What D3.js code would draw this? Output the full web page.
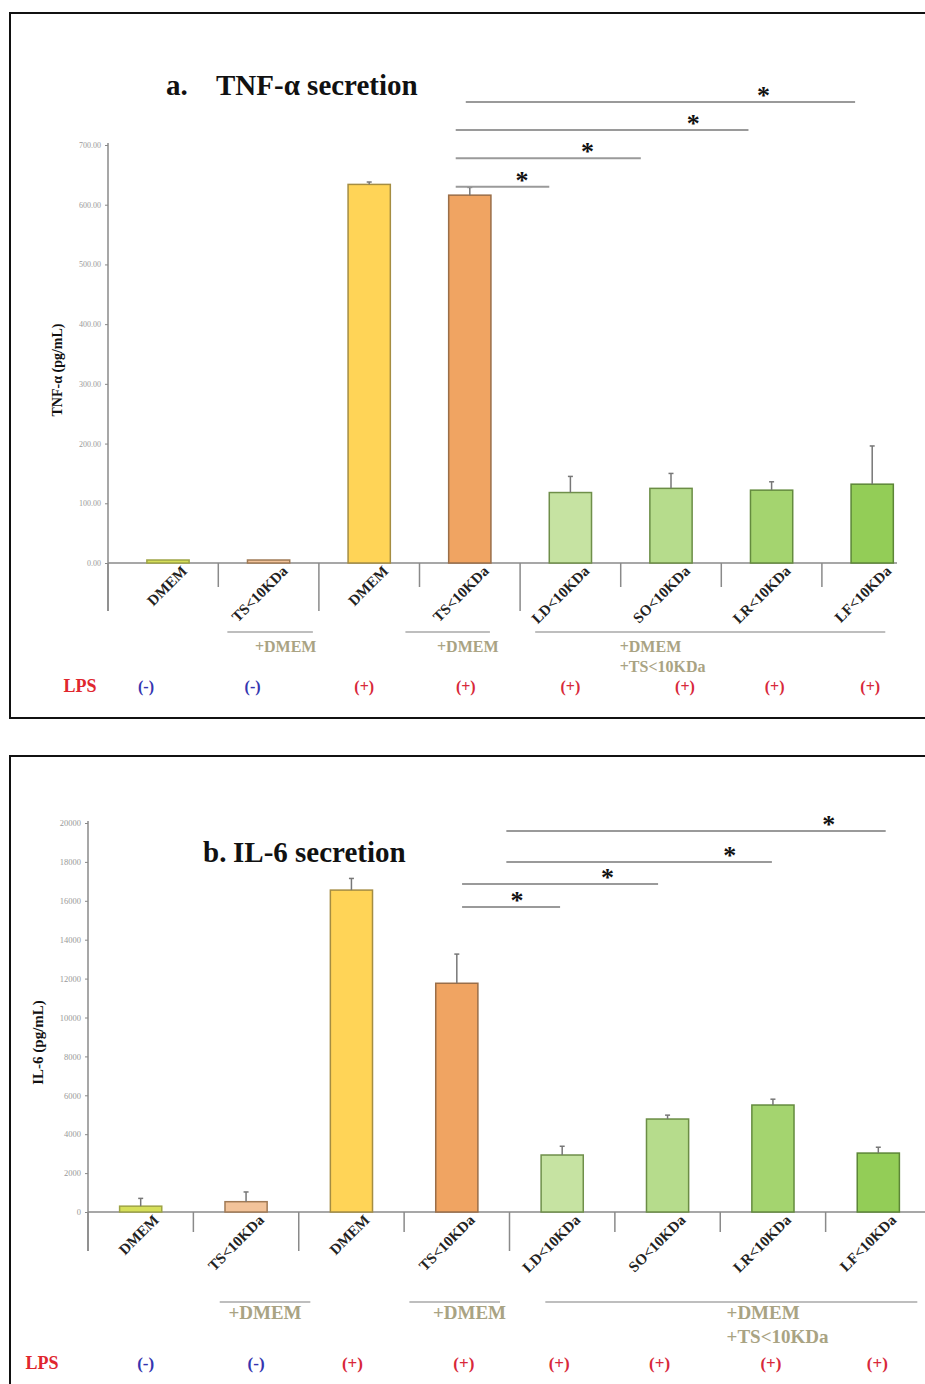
<!DOCTYPE html>
<html>
<head>
<meta charset="utf-8">
<script src="https://cdn.jsdelivr.net/npm/d3@7"></script>
<style>
  html, body { margin: 0; padding: 0; background: #fff; }
  svg { display: block; }
  .serif { font-family: "Liberation Serif", "Times New Roman", serif; }
</style>
</head>
<body>
<svg id="chart" width="925" height="1384"></svg>
<script>
// ---- data ----
const categories = ["DMEM", "TS<10KDa", "DMEM", "TS<10KDa", "LD<10KDa", "SO<10KDa", "LR<10KDa", "LF<10KDa"];
const lpsState = ["(-)", "(-)", "(+)", "(+)", "(+)", "(+)", "(+)", "(+)"];

const tnfMean = [5, 5, 634, 616, 118, 125, 122, 132];
const tnfErr = [0, 0, 4, 13, 27, 25, 14, 64];
const tnfTicks = [0, 100, 200, 300, 400, 500, 600, 700];

const il6Mean = [300, 530, 16550, 11760, 2930, 4780, 5500, 3030];
const il6Err = [400, 500, 600, 1500, 450, 200, 300, 300];
const il6Ticks = [0, 2000, 4000, 6000, 8000, 10000, 12000, 14000, 16000, 18000, 20000];

// significance comparisons: TS<10KDa (+LPS) against each extract
const tnfSigTo = [4, 5, 6, 7];
const tnfSigLevel = [630, 678, 725, 772];
const il6SigTo = [4, 5, 6, 7];
const il6SigLevel = [15680, 16860, 18000, 19590];

const groupText = [["+DMEM"], ["+DMEM"], ["+DMEM", "+TS<10KDa"]];

// ---- styles ----
const fills = ["#d6df5a", "#f2c39a", "#ffd457", "#f0a462", "#c6e3a2", "#b6dc8c", "#a4d46f", "#93cd57"];
const strokes = ["#9ea445", "#a07a55", "#a58d42", "#9a6e48", "#6f8f4a", "#6b8d45", "#648b3e", "#5c8637"];
const olive = "#a9a383";

const svg = d3.select("#chart");

function drawPanel(cfg) {
  const g = svg.append("g");

  // frame
  g.append("rect")
    .attr("x", 10).attr("y", cfg.frameTop)
    .attr("width", 930).attr("height", cfg.frameH)
    .attr("fill", "none").attr("stroke", "#111").attr("stroke-width", 2);

  const y = d3.scaleLinear().domain([0, cfg.yMax]).range([cfg.y0, cfg.yTop]);
  const x = d3.scaleBand().domain(d3.range(categories.length))
    .range(cfg.xRange).paddingInner(cfg.pIn).paddingOuter(cfg.pIn / 2);
  const step = x.step();
  const cx = i => x(i) + x.bandwidth() / 2;
  const pos = f => cx(0) + f * step;

  // title (prefix and name placed separately)
  const title = g.append("text").attr("class", "serif")
    .attr("y", cfg.titleY)
    .attr("font-size", cfg.titleFont).attr("font-weight", "bold").attr("fill", "#111");
  title.append("tspan").attr("x", cfg.titleX).text(cfg.titlePrefix);
  title.append("tspan").attr("x", cfg.titleNameX).text(cfg.titleName);

  // y axis
  const yAxis = d3.axisLeft(y).tickValues(cfg.ticks).tickFormat(cfg.fmt).tickSize(3).tickPadding(4);
  const ya = g.append("g").attr("transform", `translate(${cfg.axisX},0)`).call(yAxis);
  ya.select(".domain").remove();
  ya.selectAll(".tick line").attr("stroke", "#888");
  ya.selectAll(".tick text").attr("fill", "#999")
    .attr("font-family", "'Liberation Serif', serif").attr("font-size", cfg.tickFont);
  g.append("line")
    .attr("x1", cfg.axisX).attr("x2", cfg.axisX)
    .attr("y1", y(cfg.yMax) - 2).attr("y2", cfg.y0 + cfg.longDiv)
    .attr("stroke", "#8a8a8a").attr("stroke-width", 1.5);

  // y title
  g.append("text").attr("class", "serif")
    .attr("transform", `translate(${cfg.yTitleX},${(y(0) + y(cfg.yMax)) / 2 + cfg.yTitleDy}) rotate(-90)`)
    .attr("text-anchor", "middle").attr("font-size", cfg.yTitleFont).attr("font-weight", "bold")
    .attr("fill", "#111").text(cfg.yTitle);

  // baseline
  g.append("line")
    .attr("x1", cfg.axisX).attr("x2", cfg.baseEnd)
    .attr("y1", y(0)).attr("y2", y(0))
    .attr("stroke", "#8a8a8a").attr("stroke-width", 1.5);

  // category dividers
  const divLen = [cfg.longDiv, cfg.shortDiv, cfg.longDiv, cfg.shortDiv, cfg.longDiv, cfg.shortDiv, cfg.shortDiv, cfg.shortDiv];
  categories.forEach((c, i) => {
    const dx = i === 0 ? cfg.axisX : x(i) - (step - x.bandwidth()) / 2;
    g.append("line")
      .attr("x1", dx).attr("x2", dx)
      .attr("y1", y(0)).attr("y2", y(0) + divLen[i])
      .attr("stroke", "#8a8a8a").attr("stroke-width", 1.5);
  });

  // bars
  g.selectAll("rect.bar").data(cfg.mean).join("rect")
    .attr("class", "bar")
    .attr("x", (d, i) => x(i))
    .attr("width", x.bandwidth())
    .attr("y", d => y(d))
    .attr("height", d => y(0) - y(d))
    .attr("fill", (d, i) => fills[i])
    .attr("stroke", (d, i) => strokes[i])
    .attr("stroke-width", 1.5);

  // error bars
  cfg.mean.forEach((m, i) => {
    if (cfg.err[i] <= 0) return;
    const x0 = cx(i);
    g.append("line").attr("x1", x0).attr("x2", x0)
      .attr("y1", y(m)).attr("y2", y(m + cfg.err[i]))
      .attr("stroke", "#777").attr("stroke-width", 1.5);
    g.append("line").attr("x1", x0 - 2.5).attr("x2", x0 + 2.5)
      .attr("y1", y(m + cfg.err[i])).attr("y2", y(m + cfg.err[i]))
      .attr("stroke", "#777").attr("stroke-width", 1.5);
  });

  // category labels
  categories.forEach((c, i) => {
    g.append("text").attr("class", "serif")
      .attr("transform", `translate(${cx(i) + cfg.labDx},${y(0) + cfg.labDy}) rotate(-45)`)
      .attr("text-anchor", "end").attr("font-size", cfg.labFont).attr("font-weight", "bold")
      .attr("fill", "#222").text(c);
  });

  // significance lines
  cfg.sigTo.forEach((t, k) => {
    const ly = y(cfg.sigLevel[k]);
    const x1 = pos(cfg.sigStart[k]);
    const x2 = pos(cfg.sigEnd[k]);
    g.append("line").attr("x1", x1).attr("x2", x2).attr("y1", ly).attr("y2", ly)
      .attr("stroke", "#9a9a9a").attr("stroke-width", 2);
    g.append("text").attr("class", "serif")
      .attr("x", pos(cfg.sigStar[k])).attr("y", ly + 2)
      .attr("text-anchor", "middle").attr("font-size", 26).attr("font-weight", "bold")
      .attr("fill", "#111").text("*");
  });

  // treatment groups
  cfg.groups.forEach((gr, k) => {
    g.append("line").attr("x1", pos(gr.a)).attr("x2", pos(gr.b))
      .attr("y1", cfg.groupY).attr("y2", cfg.groupY)
      .attr("stroke", "#a8a8a8").attr("stroke-width", 1.5);
    groupText[k].forEach((t, j) => {
      g.append("text").attr("class", "serif")
        .attr("x", pos(gr.t)).attr("y", cfg.groupY + cfg.groupDy + j * cfg.groupLine)
        .attr("text-anchor", gr.anchor).attr("font-size", cfg.groupFont).attr("font-weight", "bold")
        .attr("fill", olive).text(t);
    });
  });

  // LPS row
  g.append("text").attr("class", "serif")
    .attr("x", cfg.lpsX).attr("y", cfg.lpsY)
    .attr("text-anchor", "middle").attr("font-size", 18).attr("font-weight", "bold")
    .attr("fill", "#e0262e").text("LPS");
  lpsState.forEach((s, i) => {
    g.append("text").attr("class", "serif")
      .attr("x", cx(i) + (cfg.lpsShift[i] || 0)).attr("y", cfg.lpsY)
      .attr("text-anchor", "middle").attr("font-size", cfg.lpsFont).attr("font-weight", "bold")
      .attr("fill", s === "(-)" ? "#3535b0" : "#d8283a").text(s);
  });
}

// a. TNF-α
drawPanel({
  frameTop: 13, frameH: 705,
  titlePrefix: "a.", titleName: "TNF-α secretion", titleX: 166, titleNameX: 216, titleY: 95, titleFont: 29,
  yMax: 700, y0: 563, yTop: 145, ticks: tnfTicks, fmt: d3.format(".2f"), tickFont: 8,
  axisX: 108, xRange: [117.7, 922.5], pIn: 0.58, baseEnd: 897,
  longDiv: 48, shortDiv: 24,
  yTitle: "TNF-α (pg/mL)", yTitleX: 62, yTitleDy: 16, yTitleFont: 14,
  mean: tnfMean, err: tnfErr,
  labDx: 20, labDy: 9, labFont: 15,
  sigTo: tnfSigTo, sigLevel: tnfSigLevel,
  sigStart: [2.86, 2.86, 2.86, 2.96], sigEnd: [3.79, 4.70, 5.77, 6.83], sigStar: [3.52, 4.17, 5.22, 5.92],
  groups: [{ a: 0.59, b: 1.44, t: 1.17, anchor: "middle" },
           { a: 2.36, b: 3.20, t: 2.98, anchor: "middle" },
           { a: 3.65, b: 7.13, t: 4.49, anchor: "start" }],
  groupY: 632, groupDy: 20, groupLine: 20, groupFont: 16,
  lpsX: 80, lpsY: 692, lpsFont: 16, lpsShift: [-22, -16, -5, -4, 0, 14, 3, -2]
});

// b. IL-6
drawPanel({
  frameTop: 756, frameH: 700,
  titlePrefix: "b.", titleName: "IL-6 secretion", titleX: 203, titleNameX: 233, titleY: 862, titleFont: 29,
  yMax: 20000, y0: 1212, yTop: 823, ticks: il6Ticks, fmt: d3.format("d"), tickFont: 8.5,
  axisX: 88, xRange: [88, 931], pIn: 0.6, baseEnd: 930,
  longDiv: 39, shortDiv: 20,
  yTitle: "IL-6 (pg/mL)", yTitleX: 43, yTitleDy: 25, yTitleFont: 15,
  mean: il6Mean, err: il6Err,
  labDx: 19, labDy: 9, labFont: 15,
  sigTo: il6SigTo, sigLevel: il6SigLevel,
  sigStart: [3.05, 3.05, 3.47, 3.47], sigEnd: [3.98, 4.91, 5.99, 7.07], sigStar: [3.57, 4.43, 5.59, 6.53],
  groups: [{ a: 0.75, b: 1.61, t: 1.18, anchor: "middle" },
           { a: 2.55, b: 3.41, t: 3.12, anchor: "middle" },
           { a: 3.84, b: 7.37, t: 5.56, anchor: "start" }],
  groupY: 1302, groupDy: 17, groupLine: 24, groupFont: 19,
  lpsX: 42, lpsY: 1369, lpsFont: 17, lpsShift: [5, 10, 1, 7, -3, -8, -2, -1]
});
</script>
</body>
</html>
